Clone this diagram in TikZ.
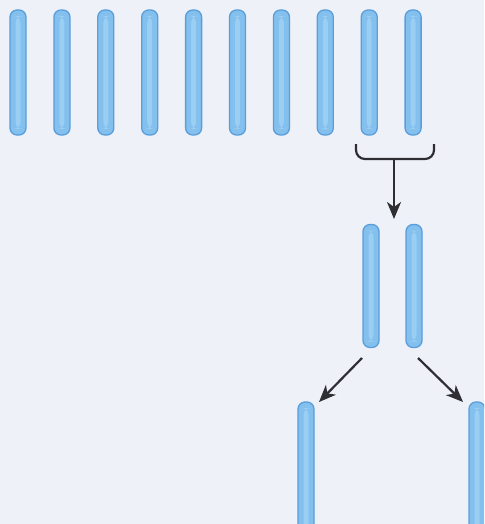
\documentclass[tikz,border=0pt]{standalone}
\usetikzlibrary{arrows.meta}
\definecolor{bg}{HTML}{EEF1F8}
\definecolor{stickfill}{HTML}{84C0EE}
\definecolor{stickedge}{HTML}{5A9EDB}
\definecolor{stickhi}{HTML}{9ACEF3}
\definecolor{ink}{HTML}{2E2E33}
\tikzset{
  stick/.style={draw=stickedge, line width=1.3pt, fill=stickfill, rounded corners=7pt,
    minimum width=16pt, inner sep=0pt,
    path picture={\fill[stickhi] ([xshift=-2.5pt,yshift=-6pt]path picture bounding box.north) rectangle ([xshift=2.5pt,yshift=6pt]path picture bounding box.south);}},
  longstick/.style={stick, minimum height=125pt},
  arr/.style={draw=ink, line width=2.2pt, -{Stealth[length=17pt,width=14pt,inset=5pt]}},
  brace/.style={draw=ink, line width=2.2pt, rounded corners=9pt}
}
\begin{document}
\begin{tikzpicture}[x=1pt,y=-1pt]
\fill[bg] (0,0) rectangle (484,524);
\useasboundingbox (0,0) rectangle (484,524);
\clip (0,0) rectangle (484,524);
% top row of ten sticks
\foreach \i in {0,...,9}{
  \node[longstick] (t\i) at ({18+\i*43.9},72.5) {};
}
% bracket under the last two sticks
\draw[brace] (356,144) |- (395,159) -| (434,144);
\coordinate (bk) at (394,160);
\coordinate (ba) at (394,219);
\draw[arr] (bk) -- (ba);
% middle pair
\node[longstick, minimum height=123pt] (m1) at (371,286) {};
\node[longstick, minimum height=123pt] (m2) at (414,286) {};
% bottom sticks
\node[longstick, minimum height=140pt] (b1) at (306,472) {};
\node[longstick, minimum height=140pt] (b2) at (477,472) {};
% arrows
\coordinate (a1s) at (362,358);
\coordinate (a1e) at (319,402);
\coordinate (a2s) at (418,358);
\coordinate (a2e) at (463,402);
\draw[arr] (a1s) -- (a1e);
\draw[arr] (a2s) -- (a2e);
\end{tikzpicture}
\end{document}
